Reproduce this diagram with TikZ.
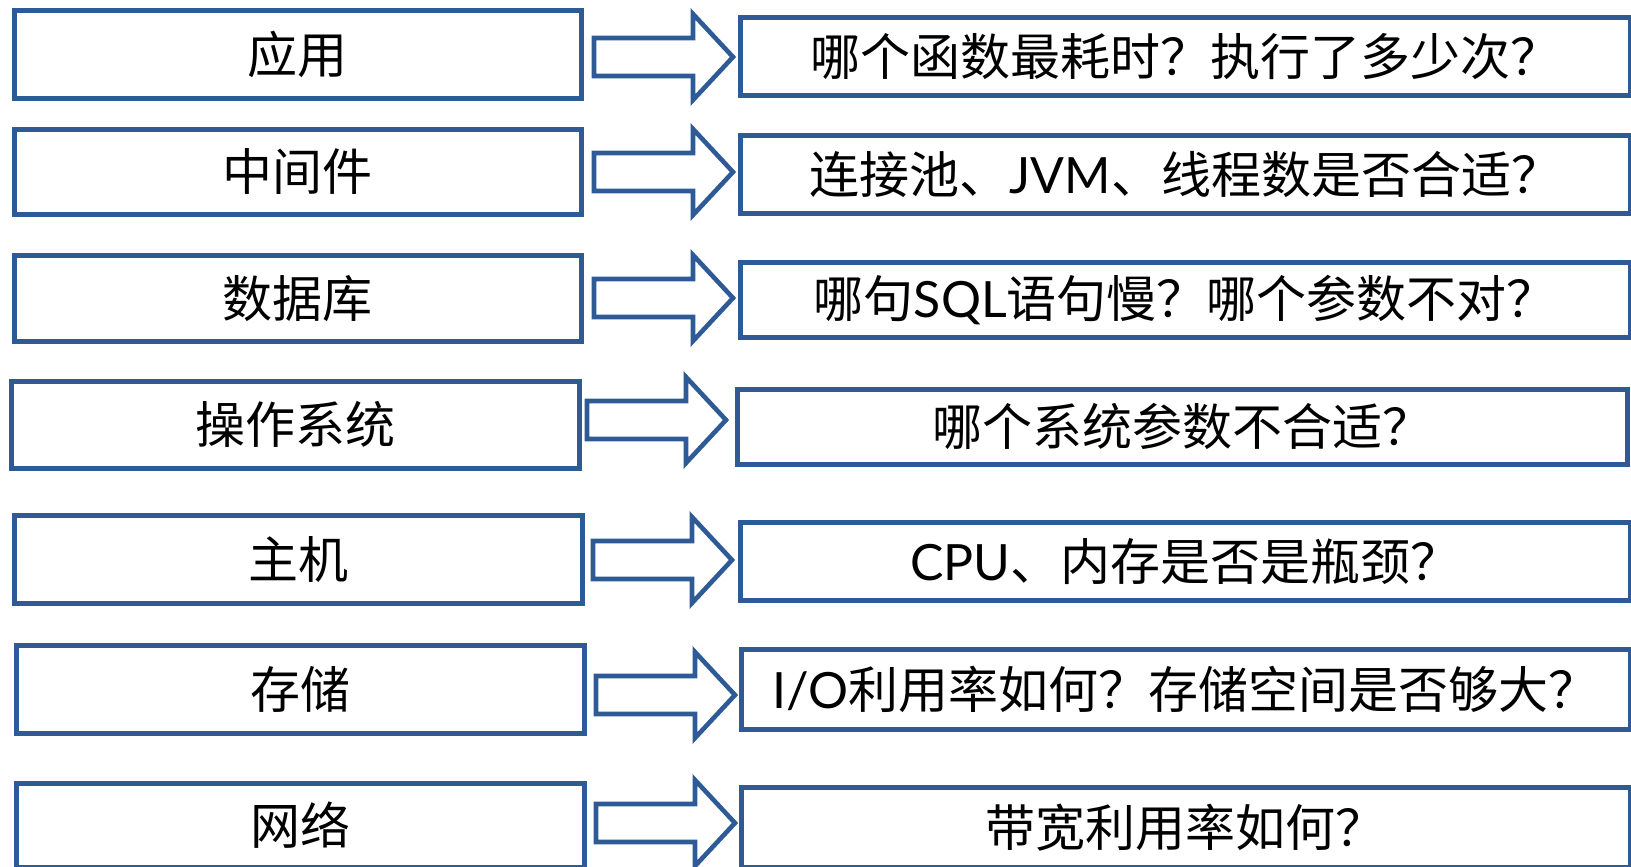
\documentclass[tikz,border=0pt]{standalone}
\usepackage{fontspec}
\setmainfont{Noto Sans CJK SC}
\newfontfamily\lat{Lato}
\definecolor{bl}{RGB}{46,91,149}
\begin{document}
\begin{tikzpicture}[x=1pt,y=-1pt,
  box/.style={draw=bl, line width=4.6pt, line join=miter, inner sep=0pt, anchor=north west,
    font=\fontsize{50pt}{58pt}\selectfont, text=black},
  arrowline/.style={draw=bl, line width=4.6pt, line join=miter},
  barrow/.pic={\draw[arrowline] (0,-19) -- (99,-19) -- (99,-43) -- (139,0) -- (99,43) -- (99,19) -- (0,19) -- cycle;}
]
\useasboundingbox (0,0) rectangle (1631,867);
% left boxes
\node[box, minimum width=567pt, minimum height=88pt] (L1) at (12,8) {应用};
\node[box, minimum width=567pt, minimum height=85pt] (L2) at (12,127) {中间件};
\node[box, minimum width=567pt, minimum height=86pt] (L3) at (12,253) {数据库};
\node[box, minimum width=568pt, minimum height=87pt] (L4) at (9,379) {操作系统};
\node[box, minimum width=568pt, minimum height=88pt] (L5) at (12,513) {主机};
\node[box, minimum width=568pt, minimum height=88pt] (L6) at (14,643) {存储};
\node[box, minimum width=568pt, minimum height=84pt] (L7) at (14,781) {网络};
% right boxes
\node[box, minimum width=890pt, minimum height=78pt] (R1) at (738,15) {哪个函数最耗时？执行了多少次？};
\node[box, minimum width=890pt, minimum height=78pt] (R2) at (738,133) {连接池、{\lat JVM}、线程数是否合适？};
\node[box, minimum width=890pt, minimum height=75pt] (R3) at (738,260) {哪句{\lat SQL}语句慢？哪个参数不对？};
\node[box, minimum width=890pt, minimum height=75pt] (R4) at (735,387) {哪个系统参数不合适？};
\node[box, minimum width=890pt, minimum height=78pt] (R5) at (738,520) {{\lat CPU}、内存是否是瓶颈？};
\node[box, minimum width=889pt, minimum height=80pt] (R6) at (739,647) {{\lat I/O}利用率如何？存储空间是否够大？};
\node[box, minimum width=889pt, minimum height=80pt] (R7) at (739,785) {带宽利用率如何？};
% block arrows
\pic (A1) at (594,57) {barrow};
\pic (A2) at (594,172) {barrow};
\pic (A3) at (594,298) {barrow};
\pic (A4) at (587,420) {barrow};
\pic (A5) at (593,560) {barrow};
\pic (A6) at (596,695) {barrow};
\pic (A7) at (596,823) {barrow};
\end{tikzpicture}
\end{document}
